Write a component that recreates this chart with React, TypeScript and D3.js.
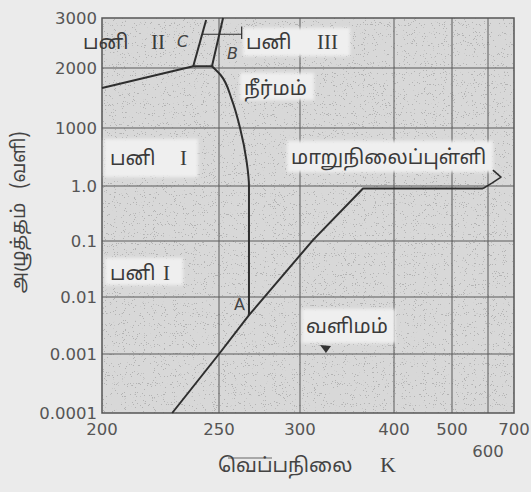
import React from "react";
import * as d3 from "d3";

// ---- axis ticks ----
const xTicks = [200, 250, 300, 400, 500, 600, 700];
const xTickLabels = ["200", "250", "300", "400", "500", "600", "700"];
const yTicks = [0.0001, 0.001, 0.01, 0.1, 1.0, 1000, 2000, 3000];
const yTickLabels = ["0.0001", "0.001", "0.01", "0.1", "1.0", "1000", "2000", "3000"];

// ---- phase boundaries (T in K, P in atm) ----
const vaporT = [230, 250, 268.5, 314, 367, 586];
const vaporP = [0.0001, 0.001, 0.0048, 0.105, 0.9, 0.9];
const criticalHookT = [586, 615, 650, 619];
const criticalHookP = [0.9, 1.4, 2.9, 6.7];
const meltT = [268.5, 268.5, 267, 263, 258, 251, 247];
const meltP = [0.0048, 1, 20, 1000, 1380, 1845, 2030];
const ice13T = [200, 239, 247];
const ice13P = [1588, 2030, 2030];
const lineCT = [239, 244.5];
const lineCP = [2030, 2950];
const lineBT = [247, 252.5];
const lineBP = [2030, 3000];
const ice3T = [243, 264];
const ice3P = [2630, 2630];
const ice3TickT = [264, 264];
const ice3TickP = [2530, 2800];

// layout of the non-uniform axes (pixel positions of the ticks)
const xRange = [102, 219, 300, 394, 452, 488, 514];
const yRange = [413, 354, 297, 241, 186, 128, 68, 18];

const x = d3.scaleLinear().domain(xTicks).range(xRange);
const yLog = d3.scaleLinear().domain(yTicks.map(Math.log10)).range(yRange);
const y = (p: number) => yLog(Math.log10(p));

const zip = (a: number[], b: number[]) => a.map((t, i) => [t, b[i]] as [number, number]);
const straight = d3
  .line<[number, number]>()
  .x((d) => x(d[0]))
  .y((d) => y(d[1]));
const smooth = d3
  .line<[number, number]>()
  .x((d) => x(d[0]))
  .y((d) => y(d[1]))
  .curve(d3.curveMonotoneY);

const TA = "'Noto Sans Tamil', 'Noto Sans', 'DejaVu Sans', sans-serif";
const NUM = "'DejaVu Sans', sans-serif";
const SERIF = "'Liberation Serif', 'DejaVu Serif', serif";

export default function App() {
  const left = xRange[0];
  const right = xRange[xRange.length - 1];
  const top = yRange[yRange.length - 1];
  const bottom = yRange[0];
  const lineStyle = { fill: "none", stroke: "#2e2e2e", strokeWidth: 2, strokeLinejoin: "round" as const };
  const box = (bx: number, by: number, bw: number, bh: number) => (
    <rect x={bx} y={by} width={bw} height={bh} fill="#efefef" filter="url(#soft)" />
  );
  return (
    <svg
      width={531}
      height={492}
      style={{ position: "absolute", left: 0, top: 0, display: "block" }}
    >
      <defs>
        <filter id="soft" x="-10%" y="-20%" width="120%" height="140%">
          <feGaussianBlur stdDeviation="1.5" />
        </filter>
        <filter id="grain" x="0" y="0" width="100%" height="100%">
          <feTurbulence type="fractalNoise" baseFrequency="0.9" numOctaves="1" seed="7" result="n" />
          <feColorMatrix
            in="n"
            type="matrix"
            values="0 0 0 0 0.3  0 0 0 0 0.3  0 0 0 0 0.3  -40 0 0 0 13.5"
          />
        </filter>
      </defs>
      <rect x={0} y={0} width={531} height={492} fill="#ebebeb" />
      {/* plot area */}
      <rect x={left} y={top} width={right - left} height={bottom - top} fill="#d8d8d8" />
      <rect x={left} y={top} width={right - left} height={bottom - top} filter="url(#grain)" opacity={0.55} />

      {/* grid */}
      {xTicks.slice(1, -1).map((t) => (
        <line key={"gx" + t} x1={x(t)} x2={x(t)} y1={top} y2={bottom} stroke="#5a5a5a" strokeWidth={1} />
      ))}
      {yTicks.slice(1, -1).map((p) => (
        <line key={"gy" + p} x1={left} x2={right} y1={y(p)} y2={y(p)} stroke="#5a5a5a" strokeWidth={1} />
      ))}
      <rect x={left} y={top} width={right - left} height={bottom - top} fill="none" stroke="#555" strokeWidth={1.5} />

      {/* label boxes */}
      {box(243, 28, 107, 28)}
      {box(240, 73, 74, 27)}
      {box(104, 139, 94, 38)}
      {box(287, 141, 206, 31)}
      {box(105, 258, 78, 27)}
      {box(302, 309, 93, 34)}

      {/* phase boundaries */}
      <path d={straight(zip(vaporT, vaporP)) || ""} {...lineStyle} />
      <path d={straight(zip(criticalHookT, criticalHookP)) || ""} {...lineStyle} strokeWidth={1.6} />
      <path d={smooth(zip(meltT, meltP)) || ""} {...lineStyle} />
      <path d={straight(zip(ice13T, ice13P)) || ""} {...lineStyle} />
      <path d={straight(zip(lineCT, lineCP)) || ""} {...lineStyle} />
      <path d={straight(zip(lineBT, lineBP)) || ""} {...lineStyle} />
      <path d={straight(zip(ice3T, ice3P)) || ""} {...lineStyle} strokeWidth={1.2} />
      <path d={straight(zip(ice3TickT, ice3TickP)) || ""} {...lineStyle} strokeWidth={1.2} />

      {/* small dark mark */}
      <path d="M320,345 L331,346 L326,353 Z" fill="#333" />

      {/* region labels */}
      <g fontFamily={TA} fontSize={20} fill="#3a3a3a">
        <text x={83} y={49}>பனி</text>
        <text x={151} y={49} fontFamily={SERIF} fontSize={21}>II</text>
        <text x={246} y={49}>பனி</text>
        <text x={317} y={49} fontFamily={SERIF} fontSize={21}>III</text>
        <text x={244} y={95}>நீர்மம்</text>
        <text x={110} y={165}>பனி</text>
        <text x={180} y={165} fontFamily={SERIF} fontSize={21}>I</text>
        <text x={291} y={164}>மாறுநிலைப்புள்ளி</text>
        <text x={110} y={280}>பனி</text>
        <text x={163} y={280} fontFamily={SERIF} fontSize={21}>I</text>
        <text x={306} y={333}>வளிமம்</text>
      </g>
      <g fontFamily={NUM} fontSize={16} fill="#444" fontStyle="italic">
        <text x={177} y={47}>C</text>
        <text x={227} y={59}>B</text>
        <text x={234} y={310} fontStyle="normal">A</text>
      </g>

      {/* y tick labels */}
      <g fontFamily={NUM} fontSize={16.5} fill="#555" textAnchor="end">
        {yTicks.map((p, i) => (
          <text key={"yl" + p} x={97} y={y(p)} dy="0.36em">
            {yTickLabels[i]}
          </text>
        ))}
      </g>
      {/* x tick labels */}
      <g fontFamily={NUM} fontSize={16.5} fill="#555" textAnchor="middle">
        {xTicks.map((t, i) => (
          <text key={"xl" + t} x={x(t)} y={t === 600 ? 457 : 435}>
            {xTickLabels[i]}
          </text>
        ))}
      </g>

      {/* axis titles */}
      <line x1={228} x2={272} y1={458} y2={458} stroke="#666" strokeWidth={1.2} />
      <text x={218} y={472} fontFamily={TA} fontSize={20} fill="#444">வெப்பநிலை</text>
      <text x={380} y={472} fontFamily={SERIF} fontSize={22} fill="#444">K</text>
      <g fontFamily={TA} fontSize={19} fill="#444" textAnchor="middle">
        <text transform="translate(25,248) rotate(-90)">அழுத்தம்</text>
        <text transform="translate(25,160) rotate(-90)">(வளி)</text>
      </g>
    </svg>
  );
}
